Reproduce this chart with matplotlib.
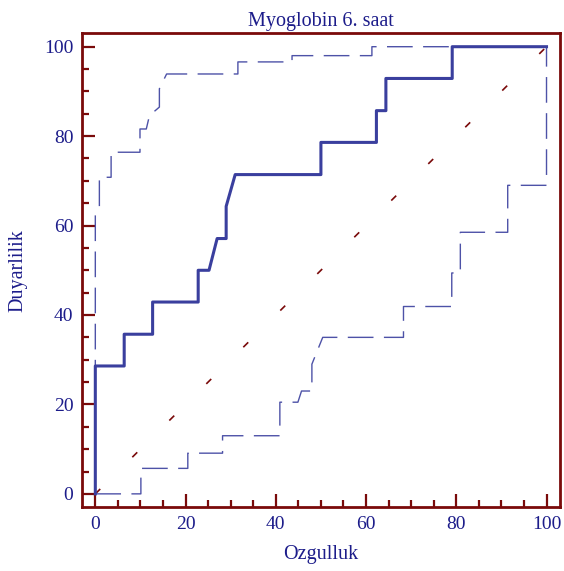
import matplotlib
matplotlib.use("Agg")
import matplotlib.pyplot as plt
from matplotlib.ticker import MultipleLocator

# ROC curve
roc_x = [0, 0, 6.4, 6.4, 12.7, 12.7, 22.8, 22.8, 25.2, 27.0, 29.0, 29.0, 31.0,
         50.0, 50.0, 62.3, 62.3, 64.4, 64.4, 79.1, 79.1, 100]
roc_y = [0, 28.6, 28.6, 35.7, 35.7, 42.9, 42.9, 50.0, 50.0, 57.1, 57.1, 64.3, 71.4,
         71.4, 78.6, 78.6, 85.7, 85.7, 92.9, 92.9, 100, 100]

# upper confidence bound
up_x = [0, 0, 0.9, 0.9, 3.5, 3.5, 9.9, 9.9, 11.3, 12.0, 14.2, 14.2, 15.8,
        31.6, 31.6, 43.6, 43.6, 61.3, 61.3, 100]
up_y = [0, 62.5, 64.0, 70.8, 70.8, 76.4, 76.4, 81.6, 81.6, 84.6, 86.5, 90.6, 93.9,
        93.9, 96.6, 96.6, 98.0, 98.0, 100, 100]

# lower confidence bound
lo_x = [0, 10.1, 10.1, 20.5, 20.5, 28.2, 28.2, 40.9, 40.9, 44.9, 45.7, 48.0, 48.0,
        50.4, 68.3, 68.3, 79.0, 79.0, 80.9, 80.9, 91.4, 91.4, 100, 100]
lo_y = [0, 0, 5.7, 5.7, 9.1, 9.1, 13.0, 13.0, 20.5, 20.5, 23.0, 23.0, 29.0,
        35.0, 35.0, 41.9, 41.9, 49.4, 49.4, 58.5, 58.5, 69.0, 69.0, 100]

title = "Myoglobin 6. saat"
xlabel = "Ozgulluk"
ylabel = "Duyarlilik"

blue = "#3a3f9e"
red = "#7a0a0a"
navy = "#1c1c8a"

plt.rcParams['font.family'] = ['Liberation Serif', 'DejaVu Serif']
plt.rcParams['lines.scale_dashes'] = False

fig = plt.figure(figsize=(5.64, 5.71), dpi=100)
ax = fig.add_axes([0.145, 0.1116, 0.848, 0.8301])

ax.plot([0, 100], [0, 100], color=red, lw=1.2, dashes=(5, 32.5))
ax.plot(lo_x, lo_y, color=blue, lw=1.0, alpha=0.9, dashes=(18.5, 7.5))
ax.plot(up_x, up_y, color=blue, lw=1.0, alpha=0.9, dashes=(18.5, 7.5))
ax.plot(roc_x, roc_y, color=blue, lw=2.2)

ax.set_xlim(-3, 103)
ax.set_ylim(-3, 103)
ax.xaxis.set_major_locator(MultipleLocator(20))
ax.xaxis.set_minor_locator(MultipleLocator(5))
ax.yaxis.set_major_locator(MultipleLocator(20))
ax.yaxis.set_minor_locator(MultipleLocator(5))

for s in ax.spines.values():
    s.set_color(red)
    s.set_linewidth(2.0)

ax.tick_params(which='both', direction='in', color=red, width=1.6,
               top=False, right=False)
ax.tick_params(which='major', length=9.5, labelsize=14, labelcolor=navy, pad=6)
ax.tick_params(which='minor', length=5)

ax.set_title(title, fontsize=14.5, color=navy, pad=5)
ax.set_xlabel(xlabel, fontsize=14.5, color=navy, labelpad=9)
ax.set_ylabel(ylabel, fontsize=14.5, color=navy, labelpad=12)

fig.savefig("out.png", dpi=100)
